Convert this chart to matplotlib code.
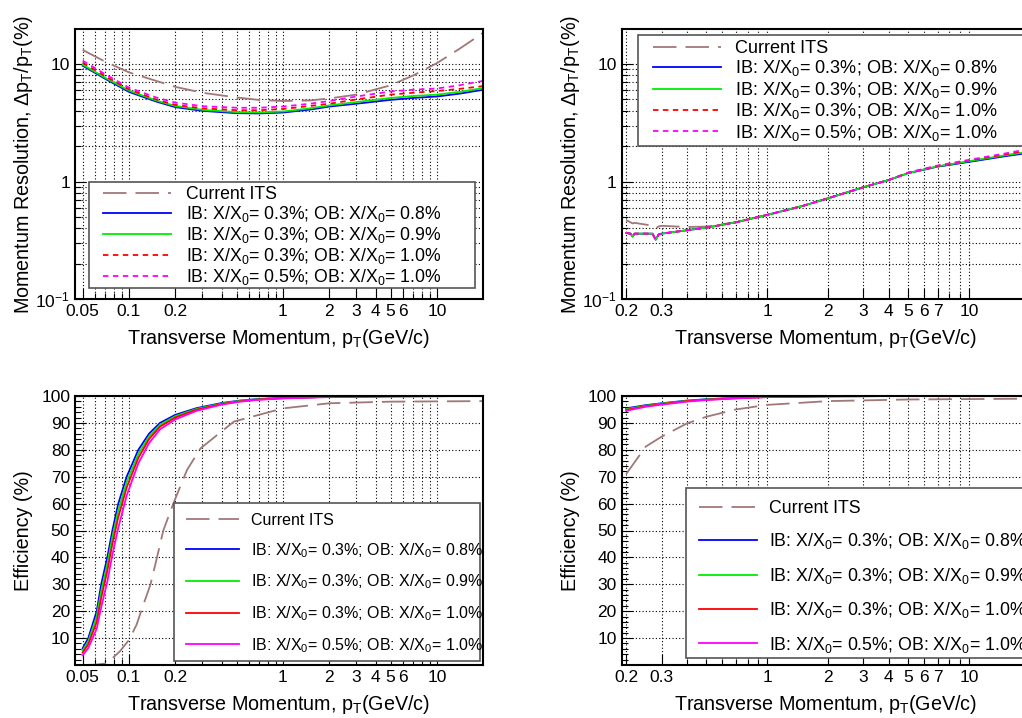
import numpy as np
import matplotlib
matplotlib.use('Agg')
import matplotlib.pyplot as plt
from matplotlib.patches import Rectangle
from matplotlib.ticker import FixedLocator, NullFormatter

plt.rcParams['font.family'] = ['Liberation Sans', 'DejaVu Sans']
plt.rcParams['mathtext.fontset'] = 'custom'
plt.rcParams['mathtext.rm'] = 'Liberation Sans'
plt.rcParams['mathtext.it'] = 'Liberation Sans'
plt.rcParams['mathtext.default'] = 'regular'

# ---------------- data ----------------
labels = ['Current ITS',
          'IB: X/X$_0$= 0.3%; OB: X/X$_0$= 0.8%',
          'IB: X/X$_0$= 0.3%; OB: X/X$_0$= 0.9%',
          'IB: X/X$_0$= 0.3%; OB: X/X$_0$= 1.0%',
          'IB: X/X$_0$= 0.5%; OB: X/X$_0$= 1.0%']
colors = ['#a07878', '#0000ff', '#00ee00', '#ff0000', '#ff00ff']

# top left: momentum resolution (%)
res_pt_a = [0.05, 0.07, 0.1, 0.15, 0.2, 0.3, 0.5, 0.7, 1, 1.5, 2, 3, 5, 7, 10, 14, 20]
res_its_a = [13.2, 10.5, 8.5, 7.2, 6.4, 5.7, 5.2, 4.95, 4.85, 4.9, 5.1, 5.5, 6.6, 8.0, 10.2, 13.5, 18.5]
res_a_08 = [9.7, 7.5, 5.8, 4.8, 4.3, 4.0, 3.82, 3.8, 3.87, 4.1, 4.35, 4.6, 4.96, 5.15, 5.3, 5.6, 6.05]
res_a_09 = [9.9, 7.65, 5.95, 4.9, 4.4, 4.08, 3.9, 3.88, 3.95, 4.2, 4.45, 4.75, 5.15, 5.35, 5.5, 5.8, 6.25]
res_a_10 = [10.3, 7.9, 6.1, 5.0, 4.5, 4.2, 4.05, 4.05, 4.15, 4.4, 4.6, 5.0, 5.5, 5.7, 5.9, 6.15, 6.5]
res_a_05 = [10.7, 8.2, 6.3, 5.2, 4.7, 4.38, 4.25, 4.25, 4.35, 4.6, 4.85, 5.3, 5.85, 6.05, 6.2, 6.6, 7.2]

# top right: momentum resolution (%)
res_pt_b = [0.2, 0.21, 0.215, 0.22, 0.25, 0.27, 0.28, 0.29, 0.3, 0.4, 0.5, 0.7, 1, 1.5, 2, 3, 4, 5, 7, 10, 15, 20]
res_its_b = [0.47, 0.45, 0.44, 0.445, 0.43, 0.42, 0.40, 0.415, 0.42, 0.41, 0.414, 0.45, 0.52, 0.62, 0.72, 0.895, 1.03, 1.18, 1.34, 1.48, 1.66, 1.79]
res_b_08 = [0.365, 0.36, 0.34, 0.36, 0.36, 0.36, 0.32, 0.355, 0.36, 0.385, 0.405, 0.45, 0.52, 0.62, 0.72, 0.895, 1.03, 1.18, 1.34, 1.47, 1.64, 1.76]
res_b_09 = [0.365, 0.36, 0.34, 0.36, 0.36, 0.36, 0.32, 0.355, 0.36, 0.385, 0.405, 0.45, 0.52, 0.62, 0.72, 0.895, 1.03, 1.18, 1.35, 1.49, 1.67, 1.80]
res_b_10 = [0.365, 0.36, 0.34, 0.36, 0.36, 0.36, 0.32, 0.355, 0.36, 0.385, 0.405, 0.45, 0.52, 0.62, 0.72, 0.895, 1.03, 1.19, 1.36, 1.51, 1.70, 1.85]
res_b_05 = [0.365, 0.36, 0.34, 0.36, 0.36, 0.36, 0.32, 0.355, 0.36, 0.385, 0.405, 0.45, 0.52, 0.62, 0.72, 0.895, 1.03, 1.19, 1.37, 1.53, 1.73, 1.90]

# bottom left: efficiency (%)
eff_pt_a = [0.05, 0.0544, 0.0617, 0.066, 0.0723, 0.078, 0.0852, 0.0966, 0.115, 0.135, 0.159, 0.2, 0.275, 0.4, 0.526, 0.7, 1, 2, 5, 20]
eff_a_08 = [6.2, 10, 20, 30, 40, 50, 60, 70, 80, 86, 90, 93, 95.5, 97.4, 98.3, 98.9, 99.3, 99.7, 99.9, 100]
eff_a_09 = [5.4, 8.8, 18, 27.5, 37.5, 47.5, 57.5, 68, 78.5, 85, 89.3, 92.5, 95.2, 97.2, 98.2, 98.8, 99.2, 99.7, 99.9, 100]
eff_a_10 = [4.6, 7.7, 16, 25, 35, 45, 55, 66, 77, 84, 88.6, 92.0, 94.9, 97.0, 98.0, 98.7, 99.2, 99.7, 99.9, 100]
eff_a_05 = [3.6, 6.3, 13.5, 21.5, 31, 41, 51, 63, 75, 82.5, 87.6, 91.3, 94.5, 96.8, 97.9, 98.6, 99.1, 99.6, 99.9, 100]
eff_pt_its_a = [0.05, 0.06, 0.0717, 0.087, 0.1, 0.112, 0.125, 0.138, 0.152, 0.167, 0.194, 0.238, 0.291, 0.48, 1, 2, 5, 20]
eff_its_a = [0.0, 0.1, 0.6, 5, 9.3, 15, 23, 30, 40, 50, 60, 72.5, 80.5, 90.5, 95.4, 97.3, 97.9, 98.1]

# bottom right: efficiency (%)
eff_pt_b = [0.2, 0.25, 0.3, 0.4, 0.5, 0.7, 1, 2, 5, 20]
eff_b_08 = [95.4, 96.6, 97.3, 98.3, 98.8, 99.3, 99.7, 99.9, 100, 100]
eff_b_09 = [95.1, 96.4, 97.2, 98.2, 98.7, 99.3, 99.7, 99.9, 100, 100]
eff_b_10 = [94.8, 96.2, 97.0, 98.1, 98.6, 99.2, 99.6, 99.9, 100, 100]
eff_b_05 = [94.5, 96.0, 96.8, 97.9, 98.5, 99.1, 99.6, 99.9, 100, 100]
eff_pt_its_b = [0.2, 0.25, 0.3, 0.4, 0.5, 0.7, 1, 2, 5, 20]
eff_its_b = [71.0, 81.2, 84.9, 89.8, 92.3, 95.0, 96.7, 98.1, 98.7, 99.0]

XLABEL = 'Transverse Momentum, p$_T$(GeV/c)'
FS_TICK = 12.5
FS_LAB = 14.2
W, H = 1022.0, 718.0


def style_x(ax, left):
    if left:
        ax.set_xlim(0.0446, 19.9)
        major = [0.05, 0.1, 0.2, 1, 2, 3, 4, 5, 6, 10]
        lab = ['0.05', '0.1', '0.2', '1', '2', '3', '4', '5', '6', '10']
        minor = [0.06, 0.07, 0.08, 0.09, 0.3, 0.4, 0.5, 0.6, 0.7, 0.8, 0.9, 7, 8, 9]
    else:
        ax.set_xlim(0.19, 20)
        major = [0.2, 0.3, 1, 2, 3, 4, 5, 6, 7, 10]
        lab = ['0.2', '0.3', '1', '2', '3', '4', '5', '6', '7', '10']
        minor = [0.4, 0.5, 0.6, 0.7, 0.8, 0.9, 8, 9]
    ax.set_xscale('log')
    ax.xaxis.set_major_locator(FixedLocator(major))
    ax.set_xticklabels(lab)
    ax.xaxis.set_minor_locator(FixedLocator(minor))
    ax.xaxis.set_minor_formatter(NullFormatter())
    ax.set_xlabel(XLABEL, fontsize=FS_LAB, labelpad=6)


def common(ax):
    ax.tick_params(which='both', direction='in', labelsize=FS_TICK, width=0.8)
    ax.tick_params(which='major', length=8)
    ax.tick_params(which='minor', length=4)
    ax.grid(True, which='both', linestyle=(0, (1, 2)), color='black', linewidth=0.8)
    for s in ax.spines.values():
        s.set_linewidth(1.5)


def style_res(ax):
    ax.set_yscale('log')
    ax.set_ylim(0.1, 19.9)
    ax.yaxis.set_major_locator(FixedLocator([0.1, 1, 10]))
    ax.set_yticklabels(['$10^{-1}$', '1', '10'])
    ax.yaxis.set_minor_locator(FixedLocator([0.2, 0.3, 0.4, 0.5, 0.6, 0.7, 0.8, 0.9,
                                             2, 3, 4, 5, 6, 7, 8, 9]))
    ax.yaxis.set_minor_formatter(NullFormatter())
    ax.set_ylabel('Momentum Resolution, $\\Delta$p$_T$/p$_T$(%)', fontsize=FS_LAB, labelpad=0)


def style_eff(ax):
    ax.set_ylim(0, 100)
    ax.yaxis.set_major_locator(FixedLocator([10, 20, 30, 40, 50, 60, 70, 80, 90, 100]))
    ax.yaxis.set_minor_locator(FixedLocator(list(range(2, 100, 2))))
    ax.yaxis.set_minor_formatter(NullFormatter())
    ax.set_ylabel('Efficiency (%)', fontsize=FS_LAB, labelpad=6)


def add_legend(ax, handles, frame, anchor, fs, spacing, hlen, tpad):
    # frame box (pixels: x0, y0 top, x1, y1 bottom) drawn behind a frameless legend
    x0, y0, x1, y1 = frame
    rect = Rectangle((x0 / W, 1 - y1 / H), (x1 - x0) / W, (y1 - y0) / H,
                     transform=ax.figure.transFigure, facecolor='white',
                     edgecolor='#555555', linewidth=1.2, zorder=4.8, clip_on=False)
    ax.add_patch(rect)
    leg = ax.legend(handles=handles, labels=labels, loc='upper left',
                    bbox_to_anchor=(anchor[0] / W, 1 - anchor[1] / H),
                    bbox_transform=ax.figure.transFigure, fontsize=fs,
                    frameon=False, borderaxespad=0, borderpad=0,
                    labelspacing=spacing, handlelength=hlen, handletextpad=tpad)
    leg.set_zorder(5)


def main():
    fig = plt.figure(figsize=(10.22, 7.18), dpi=100)

    ax1 = fig.add_axes([75 / W, 1 - 299 / H, 408 / W, 270 / H])
    ax2 = fig.add_axes([621.7 / W, 1 - 299 / H, 408 / W, 270 / H])
    ax3 = fig.add_axes([75 / W, 1 - 665 / H, 408 / W, 269 / H])
    ax4 = fig.add_axes([621.7 / W, 1 - 665 / H, 408 / W, 269 / H])

    dash_its = (0, (13, 5))
    dash_short = (0, (3, 2.5))

    # top left
    h = []
    h += ax1.plot(res_pt_a, res_its_a, color=colors[0], ls=dash_its, lw=1.3)
    h += ax1.plot(res_pt_a, res_a_08, color=colors[1], lw=1.3)
    h += ax1.plot(res_pt_a, res_a_09, color=colors[2], lw=1.3)
    h += ax1.plot(res_pt_a, res_a_10, color=colors[3], ls=dash_short, lw=1.3)
    h += ax1.plot(res_pt_a, res_a_05, color=colors[4], ls=dash_short, lw=1.3)
    style_x(ax1, True)
    style_res(ax1)
    common(ax1)
    add_legend(ax1, h, (89, 182, 475, 288), (103, 186), 12.7, 0.06, 3.86, 0.85)

    # top right
    h = []
    h += ax2.plot(res_pt_b, res_its_b, color=colors[0], ls=dash_its, lw=1.3)
    h += ax2.plot(res_pt_b, res_b_08, color=colors[1], lw=1.3)
    h += ax2.plot(res_pt_b, res_b_09, color=colors[2], lw=1.3)
    h += ax2.plot(res_pt_b, res_b_10, color=colors[3], ls=dash_short, lw=1.3)
    h += ax2.plot(res_pt_b, res_b_05, color=colors[4], ls=dash_short, lw=1.3)
    style_x(ax2, False)
    style_res(ax2)
    common(ax2)
    add_legend(ax2, h, (638, 35, 1060, 146), (653, 40), 13.1, 0.08, 3.74, 0.77)

    # bottom left
    h = []
    h += ax3.plot(eff_pt_its_a, eff_its_a, color=colors[0], ls=dash_its, lw=1.3)
    h += ax3.plot(eff_pt_a, eff_a_08, color=colors[1], lw=1.3)
    h += ax3.plot(eff_pt_a, eff_a_09, color=colors[2], lw=1.3)
    h += ax3.plot(eff_pt_a, eff_a_10, color=colors[3], lw=1.3)
    h += ax3.plot(eff_pt_a, eff_a_05, color=colors[4], lw=1.3)
    style_x(ax3, True)
    style_eff(ax3)
    common(ax3)
    ax3.grid(False, which='minor', axis='y')
    add_legend(ax3, h, (174, 503, 480, 661), (186, 513), 11.5, 0.81, 3.31, 0.75)

    # bottom right
    h = []
    h += ax4.plot(eff_pt_its_b, eff_its_b, color=colors[0], ls=dash_its, lw=1.3)
    h += ax4.plot(eff_pt_b, eff_b_08, color=colors[1], lw=1.3)
    h += ax4.plot(eff_pt_b, eff_b_09, color=colors[2], lw=1.3)
    h += ax4.plot(eff_pt_b, eff_b_10, color=colors[3], lw=1.3)
    h += ax4.plot(eff_pt_b, eff_b_05, color=colors[4], lw=1.3)
    style_x(ax4, False)
    style_eff(ax4)
    common(ax4)
    ax4.grid(False, which='minor', axis='y')
    add_legend(ax4, h, (686, 488, 1060, 658), (699, 500), 12.8, 0.81, 3.26, 0.67)

    fig.savefig('out.png', dpi=100)


if __name__ == "__main__":
    main()
